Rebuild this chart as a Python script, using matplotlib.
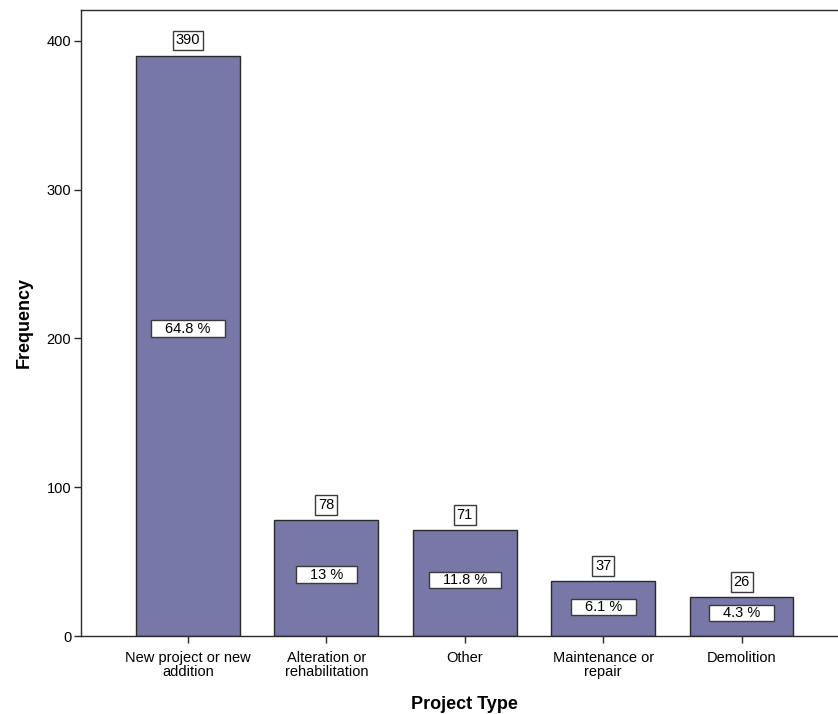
import matplotlib
matplotlib.use("Agg")
import matplotlib.pyplot as plt
from matplotlib.path import Path

# Project counts by type
categories = ["New project or new\naddition", "Alteration or\nrehabilitation", "Other",
              "Maintenance or\nrepair", "Demolition"]
counts = [390, 78, 71, 37, 26]
y_ticks = [0, 100, 200, 300, 400]

BAR_COLOR = "#7878a8"
EDGE = "#2a2a2a"
plt.rcParams["font.family"] = ["Liberation Sans", "DejaVu Sans"]

total = sum(counts)
percents = [100.0 * c / total for c in counts]
pct_labels = [f"{round(p, 1):g} %" for p in percents]


def wide_box(x0, y0, width, height, mutation_size):
    """Rectangle with generous horizontal padding and tight vertical padding."""
    px = 0.95 * mutation_size
    py = 0.08 * mutation_size
    x0, x1 = x0 - px, x0 + width + px
    y0, y1 = y0 - py, y0 + height + py
    return Path([(x0, y0), (x1, y0), (x1, y1), (x0, y1), (x0, y0)], closed=True)


fig = plt.figure(figsize=(8.38, 7.14), dpi=100)
W, H = 838, 714
slot = 138.4
ax = fig.add_axes([81 / W, 78 / H, 5.546 * slot / W, 626 / H])

x = list(range(len(categories)))
ax.bar(x, counts, width=0.75, color=BAR_COLOR, edgecolor=EDGE, linewidth=1.0, zorder=2)

ax.set_xlim(-0.773, len(categories) - 1 + 0.773)
ax.set_ylim(0, 420.8)
ax.set_yticks(y_ticks)
ax.set_xticks(x)
ax.set_xticklabels(categories, fontsize=10.5, linespacing=1.0)
ax.tick_params(axis="y", labelsize=10.5, length=5, width=1, color=EDGE, pad=2)
ax.tick_params(axis="x", length=5, width=1, color=EDGE, pad=6)

for side in ("left", "top", "bottom"):
    ax.spines[side].set_color(EDGE)
    ax.spines[side].set_linewidth(1.0)
ax.spines["right"].set_visible(False)

ax.set_ylabel("Frequency", fontsize=13, fontweight="bold", labelpad=10)
ax.set_xlabel("Project Type", fontsize=13, fontweight="bold", labelpad=12)

for xi, c, lab in zip(x, counts, pct_labels):
    # count above the bar
    ax.annotate(str(c), xy=(xi, c), xytext=(0, 6), textcoords="offset points",
                ha="center", va="bottom", fontsize=10.5, zorder=4,
                bbox=dict(boxstyle="square,pad=0.2", fc="white", ec="#3a3a3a", lw=1.0))
    # percentage inside the bar
    ypos = max(0.53 * c, 15.5)
    ax.text(xi, ypos, lab, ha="center", va="center", fontsize=10.5, zorder=4,
            bbox=dict(boxstyle=wide_box, fc="white", ec="#3a3a3a", lw=1.0))

fig.savefig("out.png", dpi=100)
